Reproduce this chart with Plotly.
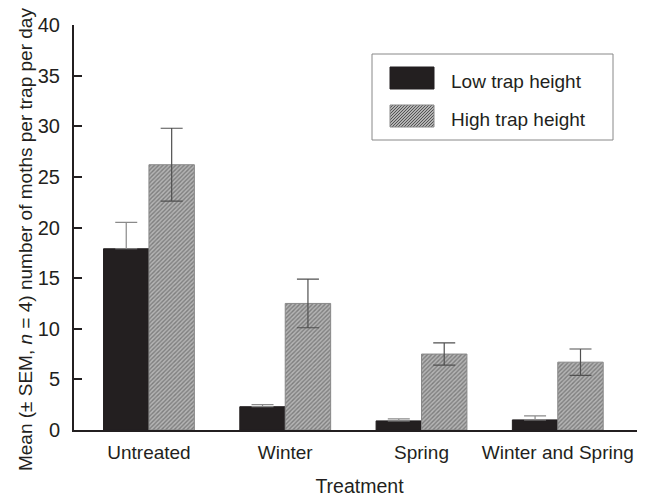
import plotly.graph_objects as go

categories = ["Untreated", "Winter", "Spring", "Winter and Spring"]
low_means = [17.9, 2.3, 0.9, 1.0]
low_sem = [2.6, 0.2, 0.2, 0.4]
high_means = [26.2, 12.5, 7.5, 6.7]
high_sem = [3.6, 2.4, 1.1, 1.3]
y_ticks = [0, 5, 10, 15, 20, 25, 30, 35, 40]
series_names = ["Low trap height", "High trap height"]

FONT = "Liberation Sans, Arial, sans-serif"
INK = "#231f20"
HATCH_BG = "#b4b4b4"
HATCH_FG = "#474747"

fig = go.Figure()
fig.add_trace(go.Bar(
    name=series_names[0], x=categories, y=low_means,
    marker=dict(color=INK, line=dict(color=INK, width=1)),
    error_y=dict(type="data", array=low_sem, arrayminus=[0] * len(low_sem),
                 color="#8a8a8a", thickness=1.2, width=11),
))
fig.add_trace(go.Bar(
    name=series_names[1], x=categories, y=high_means,
    marker=dict(color="#a8a8a8",
                line=dict(color="#888888", width=1),
                pattern=dict(shape="/", size=3, solidity=0.45,
                             fgcolor=HATCH_FG, bgcolor=HATCH_BG)),
    error_y=dict(type="data", array=high_sem, color="#505050",
                 thickness=1.2, width=11),
))

# ---- legend drawn as a boxed key (large swatches as in the original) ----
PLOT_L, PLOT_B, PLOT_W, PLOT_H = 74, 430, 571, 405   # plot area in page px


def px2paper(x, y):
    return (x - PLOT_L) / PLOT_W, (PLOT_B - y) / PLOT_H


def rect(x0, y0, x1, y1, **kw):
    a, b = px2paper(x0, y0)
    c, d = px2paper(x1, y1)
    return dict(type="rect", xref="paper", yref="paper",
                x0=a, y0=d, x1=c, y1=b, **kw)


def hatch_path(x0, y0, x1, y1, step=3.0):
    w, h = x1 - x0, y1 - y0
    parts = []
    c = -h
    while c < w:
        v0 = max(0.0, -c)
        v1 = min(h, w - c)
        if v1 > v0:
            ax, ay = px2paper(x0 + v0 + c, y1 - v0)
            bx, by = px2paper(x0 + v1 + c, y1 - v1)
            parts.append(f"M{ax:.5f},{ay:.5f}L{bx:.5f},{by:.5f}")
        c += step
    return "".join(parts)


shapes = [
    rect(372, 54, 613, 140, line=dict(color="#888888", width=1),
         fillcolor="white", layer="above"),
    rect(390, 67, 434, 89, line=dict(color=INK, width=1),
         fillcolor=INK, layer="above"),
    rect(390, 105, 434, 127, line=dict(width=0),
         fillcolor=HATCH_BG, layer="above"),
    dict(type="path", xref="paper", yref="paper",
         path=hatch_path(390, 105, 434, 127),
         line=dict(color=HATCH_FG, width=0.9), layer="above"),
    rect(390, 105, 434, 127, line=dict(color="#888888", width=1),
         layer="above"),
]

annotations = [dict(
    text="Mean (± SEM, <i>n</i> = 4) number of moths per trap per day",
    xref="paper", yref="paper", x=-0.0858, y=0.469,
    xanchor="center", yanchor="middle", textangle=-90,
    showarrow=False, font=dict(size=19, family=FONT, color=INK))]
for name, ymid in zip(series_names, [81.3, 119.5]):
    ax, ay = px2paper(449, ymid)
    annotations.append(dict(text=name, xref="paper", yref="paper", x=ax, y=ay,
                            xanchor="left", yanchor="middle", showarrow=False,
                            font=dict(size=19, family=FONT, color=INK)))

# the page body has an 8 px margin, so the figure is 8 px smaller
fig.update_layout(
    width=637, height=489,
    margin=dict(l=66, r=0, t=17, b=67, autoexpand=False),
    paper_bgcolor="white", plot_bgcolor="white",
    font=dict(family=FONT, size=19, color=INK),
    barmode="group", bargap=1/3, bargroupgap=0,
    showlegend=False,
    shapes=shapes,
    annotations=annotations,
    xaxis=dict(range=[-0.55, 3.64], showline=True, linecolor=INK, linewidth=2,
               ticks="", showgrid=False, zeroline=False, automargin=False,
               tickfont=dict(size=19), ticklabelstandoff=4,
               title=dict(text="Treatment", font=dict(size=19.5), standoff=19)),
    yaxis=dict(range=[0, 40], tickvals=y_ticks, showline=True, linecolor=INK,
               linewidth=2, ticks="inside", ticklen=8, tickwidth=2,
               tickcolor=INK, showgrid=False, zeroline=False, automargin=False,
               tickfont=dict(size=20), ticklabelstandoff=8),
)

fig.write_html("out.html")
